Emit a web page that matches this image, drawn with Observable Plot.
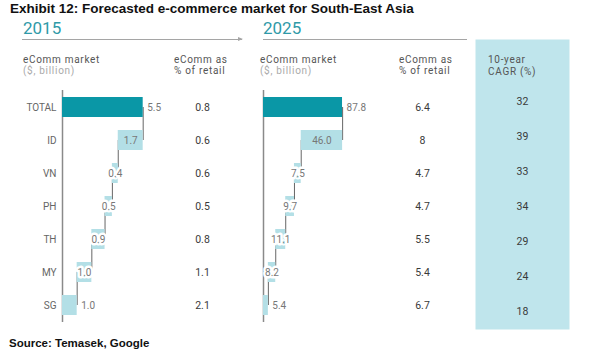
<!DOCTYPE html>
<html><head><meta charset="utf-8">
<script src="https://cdn.jsdelivr.net/npm/d3@7"></script>
<script src="https://cdn.jsdelivr.net/npm/@observablehq/plot@0.6"></script>
<style>
body{margin:0;background:#fff;}
#chart{position:relative;width:600px;height:360px;overflow:hidden;font-family:Roboto,"Liberation Sans",sans-serif;}
#chart svg{position:absolute;left:0;top:0;}
.t{position:absolute;white-space:nowrap;line-height:1;}
.hd{font-size:10px;letter-spacing:0.7px;color:#555;}
.sub{color:#aaa;}
.yr{font-size:17px;color:#2f9aa8;}
.rule{position:absolute;height:0;border-top:1px solid #a5a5a5;}
.title{font-family:"Liberation Sans",Arial,sans-serif;font-weight:bold;color:#111;}
</style></head><body><div id="chart"></div>
<script>
// ---- data ----
const categories = ["TOTAL","ID","VN","PH","TH","MY","SG"];
const market2015 = [5.5,1.7,0.4,0.5,0.9,1.0,1.0];
const retailShare2015 = [0.8,0.6,0.6,0.5,0.8,1.1,2.1];
const market2025 = [87.8,46.0,7.5,9.7,11.1,8.2,5.4];
const retailShare2025 = [6.4,8,4.7,4.7,5.5,5.4,6.7];
const cagr10y = [32,39,33,34,29,24,18];
const years = ["2015","2025"];
const titleText = "Exhibit 12: Forecasted e-commerce market for South-East Asia";
const sourceText = "Source: Temasek, Google";

// ---- layout ----
const W = 600, H = 360;
const yOpts = {domain: categories, range: [83.9, 328.1], padding: 0.4};
const TEAL = "#0a97a6", LIGHT = "#b3dfe6", BOX = "#bfe5ec";

function waterfall(values){
  const n = values.length, rows = new Array(n);
  let acc = 0;
  for (let i = n - 1; i >= 1; i--) {
    rows[i] = {cat: categories[i], value: values[i], x1: acc, x2: acc + values[i], total: false};
    acc += values[i];
  }
  rows[0] = {cat: categories[0], value: values[0], x1: 0, x2: values[0], total: true};
  return rows;
}

function panel(values, pct, xDomain, xRange, showY, marginLeft, pctCenter){
  const rows = waterfall(values);
  const n = rows.length, total = rows[0].value;
  const links = rows.slice(0, -1).map((r, i) => ({x: rows[i + 1].x2, a: r.cat, b: rows[i + 1].cat}));
  const place = (r, i) => (i === 0 || i === n - 1) ? "right" : (r.value / total >= 0.25 ? "inside" : "halo");
  const right = rows.filter((r, i) => place(r, i) === "right");
  const inside = rows.filter((r, i) => place(r, i) === "inside");
  const halo = rows.filter((r, i) => place(r, i) === "halo");
  const fmt = d => d.value.toFixed(1);
  const pctRows = pct.map((v, i) => ({cat: categories[i], v}));
  return Plot.plot({
    width: W, height: H,
    marginLeft, marginRight: W - (2 * pctCenter - marginLeft), marginTop: 90, marginBottom: 38,
    x: {domain: xDomain, range: xRange, axis: null},
    y: {...yOpts, axis: showY ? "left" : null, tickSize: 0, tickPadding: 6, label: null},
    style: {fontFamily: "Roboto", fontSize: "10px", color: "#666", background: "none", overflow: "visible"},
    marks: [
      Plot.ruleX(links, {x: "x", y1: "a", y2: "b", insetTop: 10, insetBottom: 10, stroke: "#666"}),
      Plot.ruleX([0], {stroke: "#8a8a8a", strokeWidth: 1.5}),
      Plot.barX(rows, {x1: "x1", x2: "x2", y: "cat", fill: d => d.total ? TEAL : LIGHT}),
      Plot.text(right, {x: "x2", y: "cat", text: fmt, textAnchor: "start", dx: 4, fill: "#777"}),
      Plot.text(inside, {x: d => (d.x1 + d.x2) / 2, y: "cat", text: fmt, fill: "#777"}),
      Plot.text(halo, {x: d => (d.x1 + d.x2) / 2, y: "cat", text: fmt, fill: "#777",
        stroke: "white", strokeWidth: 5, paintOrder: "stroke", strokeLinejoin: "round"}),
      Plot.text(pctRows, {y: "cat", text: d => String(d.v), fill: "#3a3a3a", fontSize: 10.5})
    ]
  });
}

const chart = document.getElementById("chart");

chart.appendChild(panel(market2015, retailShare2015, [0, 10], [62, 62 + 146.7], true, 62, 202));
chart.appendChild(panel(market2025, retailShare2025, [0, 100], [263, 353], false, 263, 422));

const cagrRows = cagr10y.map((v, i) => ({cat: categories[i], v}));
chart.appendChild(Plot.plot({
  width: W, height: H, marginLeft: 475, marginRight: 31, marginTop: 39, marginBottom: 31,
  y: {...yOpts, axis: null},
  style: {fontFamily: "Roboto", fontSize: "10px", background: "none"},
  marks: [
    Plot.frame({fill: BOX, stroke: "none"}),
    Plot.text(cagrRows, {y: "cat", text: d => String(d.v), fill: "#3a3a3a", fontSize: 10.5})
  ]
}));

// ---- HTML text & header rules ----
function addText(txt, left, top, cls, extra){
  const d = document.createElement("div");
  d.className = "t " + (cls || "");
  d.textContent = txt;
  d.style.left = left + "px"; d.style.top = top + "px";
  if (extra) Object.assign(d.style, extra);
  chart.appendChild(d);
  return d;
}
function addRule(x1, x2, y){
  const d = document.createElement("div");
  d.className = "rule";
  d.style.left = x1 + "px"; d.style.width = (x2 - x1) + "px"; d.style.top = y + "px";
  chart.appendChild(d);
}
addText(titleText, 10, 2, "title", {fontSize: "13.5px"});
addText(years[0], 23, 20, "yr");
addText(years[1], 263, 20, "yr");
addRule(22, 242, 39);
const arrow = document.createElement("div");
Object.assign(arrow.style, {position: "absolute", left: "238px", top: "37px", width: 0, height: 0,
  borderTop: "2.5px solid transparent", borderBottom: "2.5px solid transparent", borderLeft: "5px solid #a5a5a5"});
chart.appendChild(arrow);
addRule(263, 467, 39);

[[23, 174], [260, 399]].forEach(([a, b]) => {
  addText("eComm market", a, 54.5, "hd");
  addText("($, billion)", a, 66, "hd sub");
  addText("eComm as", b, 54.5, "hd");
  addText("% of retail", b, 66, "hd");
});
addText("10-year", 488, 55, "hd");
addText("CAGR (%)", 488, 66.5, "hd");
addText(sourceText, 9, 338, "title", {fontSize: "11.5px"});
</script></body></html>
